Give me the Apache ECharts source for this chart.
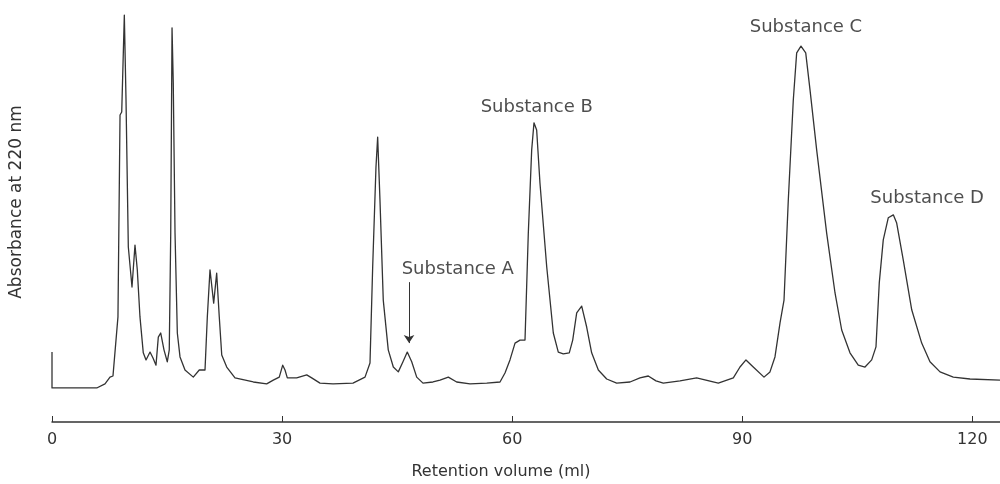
<!DOCTYPE html>
<html>
<head>
<meta charset="utf-8">
<script src="https://cdn.jsdelivr.net/npm/echarts@6/dist/echarts.min.js"></script>
<style>
  html, body { margin: 0; padding: 0; background: #fff; }
  #chart { width: 1000px; height: 484px; }
</style>
</head>
<body>
<div id="chart"></div>
<script>
// trace: retention volume (ml) and absorbance (arbitrary units, first peak ~100)
const retentionVolume = [
  0, 0, 5.83, 6.91, 7.56, 7.95, 8.21, 8.6, 8.87, 9.09, 9.43, 9.65, 9.95, 10.43, 10.82, 11.12,
  11.47, 11.9, 12.26, 12.78, 13.17, 13.56, 13.86, 14.17, 14.6, 15.03, 15.29, 15.48, 15.65, 15.81,
  16.04, 16.34, 16.69, 17.34, 18.42, 19.2, 19.95, 20.25, 20.6, 21.08, 21.47, 21.81, 22.13, 22.78,
  23.86, 26.25, 27.99, 28.85, 29.63, 30.08, 30.38, 30.68, 31.9, 33.21, 33.86, 34.94, 36.64, 39.24,
  40.81, 41.46, 41.81, 42.24, 42.46, 42.76, 43.19, 43.84, 44.5, 45.15, 45.76, 46.32, 46.9, 47.55,
  48.37, 49.67, 50.59, 51.67, 52.76, 54.5, 56.68, 58.41, 59.06, 59.71, 60.37, 61.02, 61.67, 62.1,
  62.54, 62.84, 63.19, 63.62, 64.5, 65.36, 66.01, 66.66, 67.44, 67.89, 68.41, 69.06, 69.71, 70.36,
  71.23, 72.32, 73.62, 75.36, 76.66, 77.74, 78.75, 79.7, 81.88, 84.05, 86.87, 88.83, 89.7, 90.48,
  91.43, 92.83, 93.61, 94.26, 94.92, 95.44, 96.0, 96.65, 97.09, 97.65, 98.27, 98.83, 99.7, 101.0,
  102.09, 102.96, 104.04, 105.12, 106.0, 106.87, 107.43, 107.86, 108.38, 109.03, 109.69, 110.13,
  110.99, 112.09, 113.39, 114.47, 115.78, 117.51, 119.69, 123.6
];
const absorbance = [
  9.6, 0, 0, 1.1, 2.9, 3.2, 2.7, 19.0, 73.0, 73.8, 99.7, 77.0, 37.7, 27.0, 38.2, 31.6,
  19.0, 9.4, 7.5, 9.6, 8.0, 6.1, 13.6, 14.7, 10.2, 7.0, 10.2, 41.4, 96.3, 81.6,
  41.4, 14.7, 8.3, 4.8, 2.9, 4.8, 4.8, 19.0, 31.6, 22.7, 30.7, 19.0, 8.8, 5.6,
  2.7, 1.6, 1.1, 2.1, 2.9, 6.1, 4.8, 2.7, 2.7, 3.5, 2.7, 1.3, 1.1, 1.3,
  2.9, 6.7, 32.4, 59.1, 67.1, 50.3, 23.5, 10.2, 5.6, 4.3, 7.0, 9.6, 7.0, 2.9,
  1.3, 1.6, 2.1, 2.9, 1.6, 1.1, 1.3, 1.6, 4.0, 7.5, 12.0, 12.8, 12.8, 41.4,
  63.6, 70.9, 69.0, 54.8, 32.4, 14.7, 9.6, 9.1, 9.4, 12.8, 20.1, 21.9, 16.3, 9.4,
  4.8, 2.4, 1.3, 1.6, 2.7, 3.2, 1.9, 1.3, 1.9, 2.7, 1.3, 2.7, 5.6, 7.5,
  5.6, 2.9, 4.3, 8.3, 17.4, 23.5, 50.3, 77.0, 89.6, 91.4, 89.6, 79.7, 63.6, 41.4,
  25.4, 15.5, 9.4, 6.1, 5.6, 7.5, 11.0, 28.1, 39.6, 45.5, 46.3, 44.1,
  34.2, 20.9, 12.0, 7.0, 4.3, 2.9, 2.4, 2.1
];

// peak labels (placed in data units)
const labelNames = ["Substance A", "Substance B", "Substance C", "Substance D"];
const labelX = [52.9, 63.2, 98.3, 114.1];
const labelY = [31.8, 75.1, 96.5, 50.8];

// arrow pointing at substance A
const arrowX = 46.55;
const arrowFrom = 28.3;
const arrowTo = 12.0;

const xTicks = [0, 30, 60, 90, 120];

const INK = "#333";
const FONT = "'DejaVu Sans', 'Noto Sans', sans-serif";

const chart = echarts.init(document.getElementById("chart"));

chart.setOption({
  animation: false,
  backgroundColor: "#fff",
  grid: { left: 52, right: 0, top: 14, bottom: 62, outerBoundsMode: "none" },
  xAxis: {
    type: "value",
    min: 0,
    max: 123.6,
    interval: 30,
    name: "Retention volume (ml)",
    nameLocation: "middle",
    nameGap: 42,
    nameTextStyle: { fontFamily: FONT, fontSize: 16, color: INK, padding: [0, 50, 0, 0] },
    axisLine: { onZero: false, lineStyle: { color: INK, width: 1.5 } },
    axisTick: { inside: true, length: 6, customValues: xTicks, lineStyle: { color: INK } },
    axisLabel: { customValues: xTicks, margin: 10, fontFamily: FONT, fontSize: 16, color: INK },
    splitLine: { show: false }
  },
  yAxis: {
    type: "value",
    min: -9.1,
    max: 100,
    show: false
  },
  graphic: [
    {
      type: "text",
      x: 17,
      y: 202,
      rotation: Math.PI / 2,
      style: {
        text: "Absorbance at 220 nm",
        font: "17px " + FONT,
        fill: INK,
        align: "center",
        verticalAlign: "middle"
      }
    }
  ],
  series: [
    {
      name: "trace",
      type: "line",
      data: retentionVolume.map((v, i) => [v, absorbance[i]]),
      showSymbol: false,
      symbol: "none",
      lineStyle: { color: INK, width: 1.3, join: "round" },
      silent: true,
      markLine: {
        silent: true,
        symbol: ["none", "arrow"],
        symbolSize: 8,
        label: { show: false },
        lineStyle: { color: INK, width: 1, type: "solid" },
        data: [[{ coord: [arrowX, arrowFrom] }, { coord: [arrowX, arrowTo] }]]
      }
    },
    {
      name: "labels",
      type: "scatter",
      data: labelX.map((x, i) => [x, labelY[i], labelNames[i]]),
      symbolSize: 1,
      itemStyle: { color: "transparent" },
      silent: true,
      label: {
        show: true,
        position: "inside",
        formatter: (p) => p.data[2],
        fontFamily: FONT,
        fontSize: 18,
        color: "#222",
        textBorderWidth: 0
      }
    }
  ]
});
</script>
</body>
</html>
